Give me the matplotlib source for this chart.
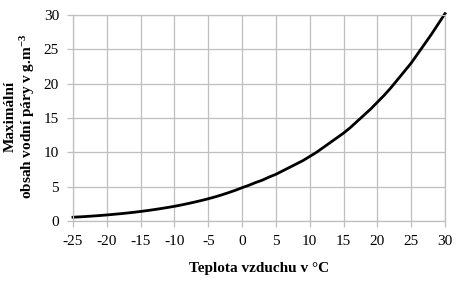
import numpy as np
import matplotlib.pyplot as plt

plt.rcParams['font.family'] = ['Liberation Serif', 'DejaVu Serif']
plt.rcParams['axes.unicode_minus'] = False
plt.rcParams['mathtext.fontset'] = 'custom'
plt.rcParams['mathtext.rm'] = 'Liberation Serif:bold'
plt.rcParams['mathtext.default'] = 'rm'

teplota = list(range(-25, 31))
obsah = [0.55, 0.60, 0.66, 0.73, 0.80, 0.88, 0.97, 1.06, 1.16, 1.27,
         1.39, 1.52, 1.66, 1.81, 1.97, 2.14, 2.33, 2.54, 2.76, 2.99,
         3.24, 3.51, 3.81, 4.13, 4.47, 4.85, 5.2, 5.6, 5.95, 6.4,
         6.8, 7.3, 7.8, 8.3, 8.8, 9.4, 10.0, 10.7, 11.4, 12.1,
         12.8, 13.6, 14.5, 15.4, 16.3, 17.3, 18.3, 19.4, 20.6, 21.8,
         23.0, 24.4, 25.8, 27.2, 28.7, 30.2]
xticks = list(range(-25, 31, 5))
yticks = list(range(0, 31, 5))

grid_c = '#bfbfbf'

fig = plt.figure(figsize=(4.6, 2.86), dpi=100)
ax = fig.add_axes([73 / 460, 1 - 221 / 286, 372 / 460, 206 / 286])

ax.plot(teplota, obsah, color='black', lw=2.0, clip_on=False)

ax.set_xlim(-25, 30)
ax.set_ylim(0, 30)
ax.set_xticks(xticks)
ax.set_yticks(yticks)
ax.grid(True, color=grid_c, lw=0.9)
ax.set_axisbelow(True)
for s in ax.spines.values():
    s.set_color(grid_c)
    s.set_linewidth(0.9)
ax.tick_params(direction='out', length=4, width=0.9, color=grid_c,
               labelsize=11, pad=6)

ax.set_xlabel('Teplota vzduchu v °C', fontsize=11, fontweight='bold', labelpad=10)
ax.set_ylabel('Maximální\nobsah vodní páry v g.m$^{-3}$', fontsize=11,
              fontweight='bold', linespacing=1.1)
ax.yaxis.set_label_coords(-0.097, 0.51)

fig.savefig('out.png', dpi=100)
